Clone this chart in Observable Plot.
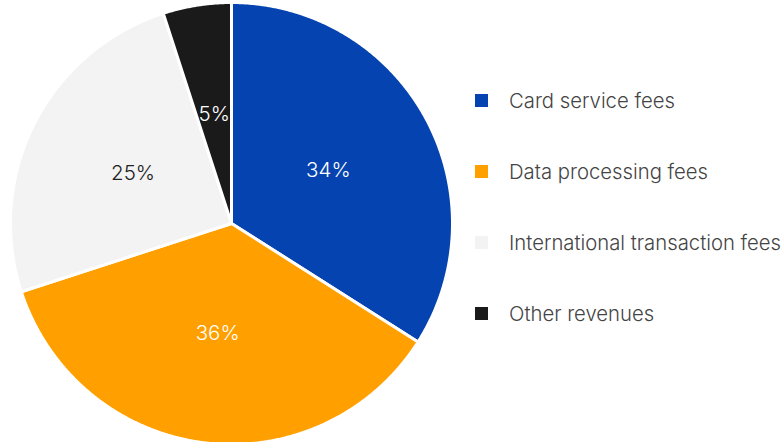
<!DOCTYPE html>
<html><head><meta charset="utf-8">
<script src="https://cdn.jsdelivr.net/npm/d3@7"></script>
<script src="https://cdn.jsdelivr.net/npm/@observablehq/plot@0.6"></script>
<style>
html,body{margin:0;padding:0;background:#fff;}
#wrap{position:relative;width:784px;height:442px;overflow:hidden;font-family:Inter,"Noto Sans",sans-serif;}
#legend{position:absolute;left:475px;top:86px;}
.item{display:flex;align-items:center;height:28px;margin-bottom:43px;font-size:20.3px;font-weight:300;color:#444;white-space:nowrap;}
.sw{width:13px;height:13px;margin-right:21px;flex:none;}
</style></head>
<body><div id="wrap"></div>
<script>
const categories = ["Card service fees","Data processing fees","International transaction fees","Other revenues"];
const shares = [34, 36, 25, 5];
const colors = ["#0443b0","#ffa000","#f3f3f3","#1a1a1a"];
const labelColors = ["#ffffff","#ffffff","#222222","#ffffff"];

const arcs = d3.pie().sort(null).value(d => d)(shares);
const outline = [];
arcs.forEach((a, i) => {
  const cat = categories[i];
  const n = Math.max(4, Math.ceil((a.endAngle - a.startAngle) / 0.005));
  outline.push({cat, x: 0, y: 0});
  for (let k = 0; k <= n; k++) {
    const t = a.startAngle + (a.endAngle - a.startAngle) * k / n;
    outline.push({cat, x: Math.sin(t), y: Math.cos(t)});
  }
  outline.push({cat, x: 0, y: 0});
});
const labels = arcs.map((a, i) => {
  const t = (a.startAngle + a.endAngle) / 2;
  return {cat: categories[i], x: 0.5 * Math.sin(t), y: 0.5 * Math.cos(t), text: shares[i] + "%", tc: labelColors[i]};
});

const font = "Inter, 'Noto Sans', sans-serif";
const chart = Plot.plot({
  width: 784, height: 442,
  margin: 0,
  x: {domain: [-1, 1], range: [10, 452], axis: null},
  y: {domain: [-1, 1], range: [444, 2], axis: null},
  color: {domain: categories, range: colors},
  style: {background: "#fff"},
  marks: [
    Plot.line(outline, {x: "x", y: "y", z: "cat", fill: "cat", stroke: "#ffffff", strokeWidth: 3, strokeLinejoin: "round"}),
    Plot.text(labels.filter(d => d.tc === "#ffffff"), {x: "x", y: "y", text: "text", fill: "#ffffff", fontSize: 20.5, fontWeight: 300, fontFamily: font}),
    Plot.text(labels.filter(d => d.tc !== "#ffffff"), {x: "x", y: "y", text: "text", fill: "#222222", fontSize: 20.5, fontWeight: 300, fontFamily: font})
  ]
});
const wrap = document.getElementById("wrap");
wrap.appendChild(chart);
const legend = document.createElement("div");
legend.id = "legend";
categories.forEach((c, i) => {
  const it = document.createElement("div");
  it.className = "item";
  const sw = document.createElement("span");
  sw.className = "sw";
  sw.style.background = colors[i];
  const lab = document.createElement("span");
  lab.textContent = c;
  it.appendChild(sw); it.appendChild(lab);
  legend.appendChild(it);
});
wrap.appendChild(legend);
</script>
</body></html>
